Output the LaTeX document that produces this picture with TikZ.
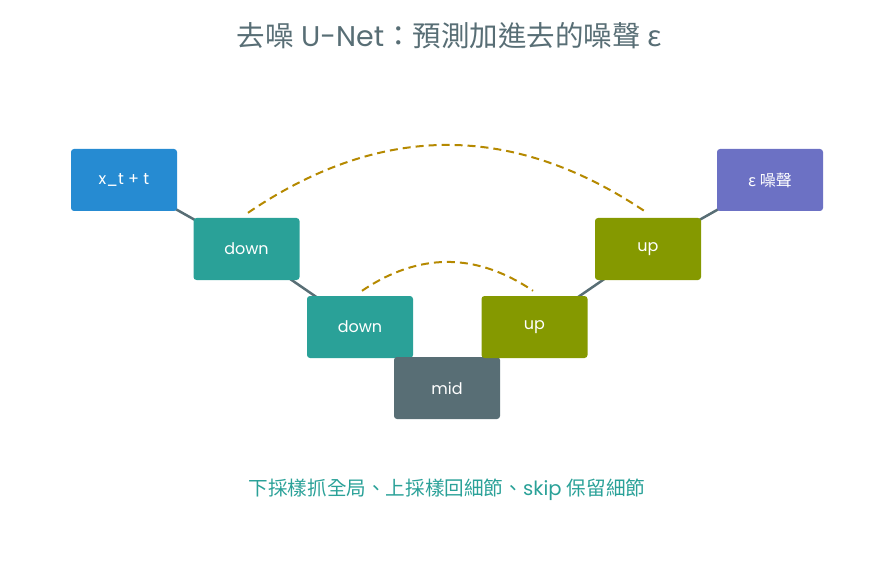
\documentclass[tikz,border=0pt]{standalone}
\usepackage{fontspec}
\setmainfont{Poppins}
\newfontfamily\cjk{Noto Sans CJK TC}
\usetikzlibrary{backgrounds}
\definecolor{sblue}{HTML}{268BD2}
\definecolor{scyan}{HTML}{2AA198}
\definecolor{sbase}{HTML}{586E75}
\definecolor{sgreen}{HTML}{859900}
\definecolor{sviolet}{HTML}{6C71C4}
\definecolor{syellow}{HTML}{B58900}
\begin{document}
\begin{tikzpicture}[x=1pt,y=-1pt,
  box/.style={rounded corners=3pt, minimum width=106pt, minimum height=62pt, inner sep=0pt, text=white, font=\fontsize{16}{19}\selectfont},
  link/.style={draw=sbase, line width=2.5pt},
  skiparc/.style={draw=syellow, line width=2pt, dash pattern=on 8pt off 5pt}]
\path[use as bounding box] (0,0) rectangle (894,564);
\node[text=sbase, font=\fontsize{28.5}{33}\selectfont] (title) at (449,36) {{\cjk 去噪} U-Net{\cjk ：預測加進去的噪聲 ε}};
\node[box, fill=sblue] (xt) at (124,180) {x\_t + t};
\node[box, fill=scyan] (d1) at (246.5,249) {down};
\node[box, fill=scyan] (d2) at (360,327) {down};
\node[box, fill=sbase] (mid) at (447,388) {mid};
\node[box, fill=sgreen] (u2) at (534.5,327) {up};
\node[box, fill=sgreen] (u1) at (648,249) {up};
\node[box, fill=sviolet] (eps) at (770,180) {\cjk ε 噪聲};
\begin{scope}[on background layer]
\draw[link] (xt.center) -- (d1.center);
\draw[link] (d1.center) -- (d2.center);
\draw[link] (d2.center) -- (mid.center);
\draw[link] (mid.center) -- (u2.center);
\draw[link] (u2.center) -- (u1.center);
\draw[link] (u1.center) -- (eps.center);
\end{scope}
\coordinate (s1a) at ([xshift=1.5pt,yshift=5pt]d1.north);
\coordinate (s1b) at ([xshift=-1pt,yshift=5pt]u1.north);
\coordinate (s2a) at ([xshift=2pt,yshift=5pt]d2.north);
\coordinate (s2b) at ([xshift=-1.5pt,yshift=5pt]u2.north);
\draw[skiparc] (s1a) .. controls (381,122.3) and (513.7,122.3) .. (s1b);
\draw[skiparc] (s2a) .. controls (419,252.3) and (476,252.3) .. (s2b);
\node[text=scyan, font=\fontsize{19.6}{23}\selectfont] (note) at (447,490) {{\cjk 下採樣抓全局、上採樣回細節、}skip {\cjk 保留細節}};
\end{tikzpicture}
\end{document}
